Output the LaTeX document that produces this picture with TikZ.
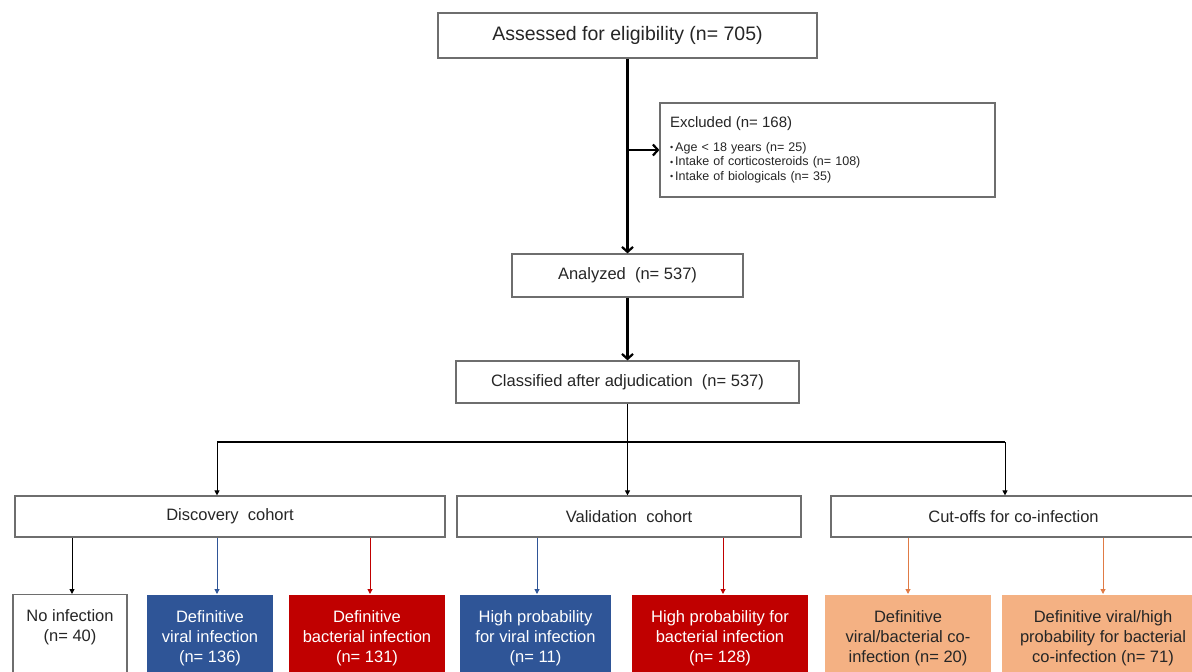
\documentclass[tikz,border=0pt]{standalone}
\usepackage{fontspec}
\setmainfont{Liberation Sans}
\usetikzlibrary{arrows.meta,calc}
\definecolor{bxblue}{HTML}{2F5597}
\definecolor{bxred}{HTML}{C00000}
\definecolor{bxorange}{HTML}{F4B183}
\definecolor{arorange}{HTML}{E07B45}
\definecolor{txt}{HTML}{262626}
\definecolor{bord}{HTML}{6E6E6E}
\tikzset{
  box/.style={draw=bord, line width=1.2pt, fill=white, text=txt, inner sep=0pt, align=center},
  leaf/.style={line width=1.2pt, inner sep=0pt, align=center, anchor=north, minimum height=88pt,
    font=\fontsize{16.5}{20}\selectfont},
  mainarr/.style={line width=2.2pt, -{Straight Barb[length=5pt,width=11pt]}},
  thinarr/.style={line width=1pt, -{Triangle[length=5pt,width=5pt]}},
}
\newcommand{\bul}{\raisebox{0.5pt}{\fontsize{9}{10}\selectfont •}\,}
\begin{document}
\begin{tikzpicture}[x=1pt,y=-1pt]
\useasboundingbox (0,0) rectangle (1192,672);
% top chain
\node[box, minimum width=379pt, minimum height=45pt, font=\fontsize{19.5}{22}\selectfont] (ass) at (627.5,35.5) {Assessed for eligibility (n= 705)};
\node[box, minimum width=335pt, minimum height=94pt, text width=315pt, align=left,
      font=\fontsize{12.5}{14.5}\selectfont] (exc) at (827.5,150)
 {{\fontsize{15}{16}\selectfont Excluded (n= 168)}\\[9pt]
  \bul Age < 18 years (n= 25)\\
  \bul Intake of corticosteroids (n= 108)\\
  \bul Intake of biologicals (n= 35)};
\node[box, minimum width=231pt, minimum height=43pt, font=\fontsize{16.5}{19}\selectfont] (ana) at (627.5,275.5) {Analyzed\ \ (n= 537)};
\node[box, minimum width=343pt, minimum height=42pt, font=\fontsize{16.5}{19}\selectfont] (cls) at (627.5,382) {Classified after adjudication\ \ (n= 537)};
\coordinate (ej) at (ass.south |- exc.west);
\draw[line width=2.2pt] (ass.south) -- (ej);
\draw[mainarr] (ej) -- (ana.north);
\draw[mainarr] (ej) -- (exc.west);
\draw[mainarr] (ana.south) -- (cls.north);
% cohorts
\node[box, minimum width=430pt, minimum height=41pt, font=\fontsize{16.5}{19}\selectfont] (dis) at (230,516.5) {Discovery\ \ cohort};
\node[box, minimum width=344pt, minimum height=41pt, font=\fontsize{16.5}{19}\selectfont] (val) at (629,516.5) {Validation\ \ cohort};
\node[box, minimum width=365pt, minimum height=41pt, font=\fontsize{16.5}{19}\selectfont] (cut) at (1013.5,516.5) {Cut-offs\ for\ co-infection};
\coordinate (bL) at (217,442);
\coordinate (bR) at (1005,442);
\coordinate (bM) at (cls.south |- bL);
\draw[line width=1.4pt] (cls.south) -- (bM);
\draw[line width=1.4pt] (bL) -- (bR);
\draw[thinarr] (bL) -- (bL |- dis.north);
\draw[thinarr] (bM) -- (bM |- val.north);
\draw[thinarr] (bR) -- (bR |- cut.north);
% leaves
\node[leaf, draw=bord, fill=white, text=txt, minimum width=114pt] (noi) at (70,594) {No infection\\(n= 40)\\\strut};
\node[leaf, fill=bxblue, text=white, minimum width=126pt] (dvi) at (210,594) {Definitive\\viral infection\\(n= 136)};
\node[leaf, fill=bxred, text=white, minimum width=156pt] (dbi) at (367,594) {Definitive\\bacterial infection\\(n= 131)};
\node[leaf, fill=bxblue, text=white, minimum width=151pt] (hpv) at (535.5,594) {High probability\\for viral infection\\(n= 11)};
\node[leaf, fill=bxred, text=white, minimum width=176pt] (hpb) at (720,594) {High probability for\\bacterial infection\\(n= 128)};
\node[leaf, fill=bxorange, text=txt, minimum width=166pt] (dco) at (908,594) {Definitive\\viral/bacterial co-\\infection (n= 20)};
\node[leaf, fill=bxorange, text=txt, minimum width=202pt] (dvh) at (1103,594) {Definitive viral/high\\probability for bacterial\\co-infection (n= 71)};
\coordinate (t1) at ($(noi.north)+(2,0)$);
\coordinate (t2) at ($(dvi.north)+(7,0)$);
\coordinate (t3) at ($(dbi.north)+(3,0)$);
\coordinate (t4) at ($(hpv.north)+(1.5,0)$);
\coordinate (t5) at ($(hpb.north)+(3,0)$);
\draw[thinarr, black] (t1 |- dis.south) -- (t1);
\draw[thinarr, bxblue] (t2 |- dis.south) -- (t2);
\draw[thinarr, bxred] (t3 |- dis.south) -- (t3);
\draw[thinarr, bxblue] (t4 |- val.south) -- (t4);
\draw[thinarr, bxred] (t5 |- val.south) -- (t5);
\draw[thinarr, arorange] (dco.north |- cut.south) -- (dco.north);
\draw[thinarr, arorange] (dvh.north |- cut.south) -- (dvh.north);
\end{tikzpicture}
\end{document}
